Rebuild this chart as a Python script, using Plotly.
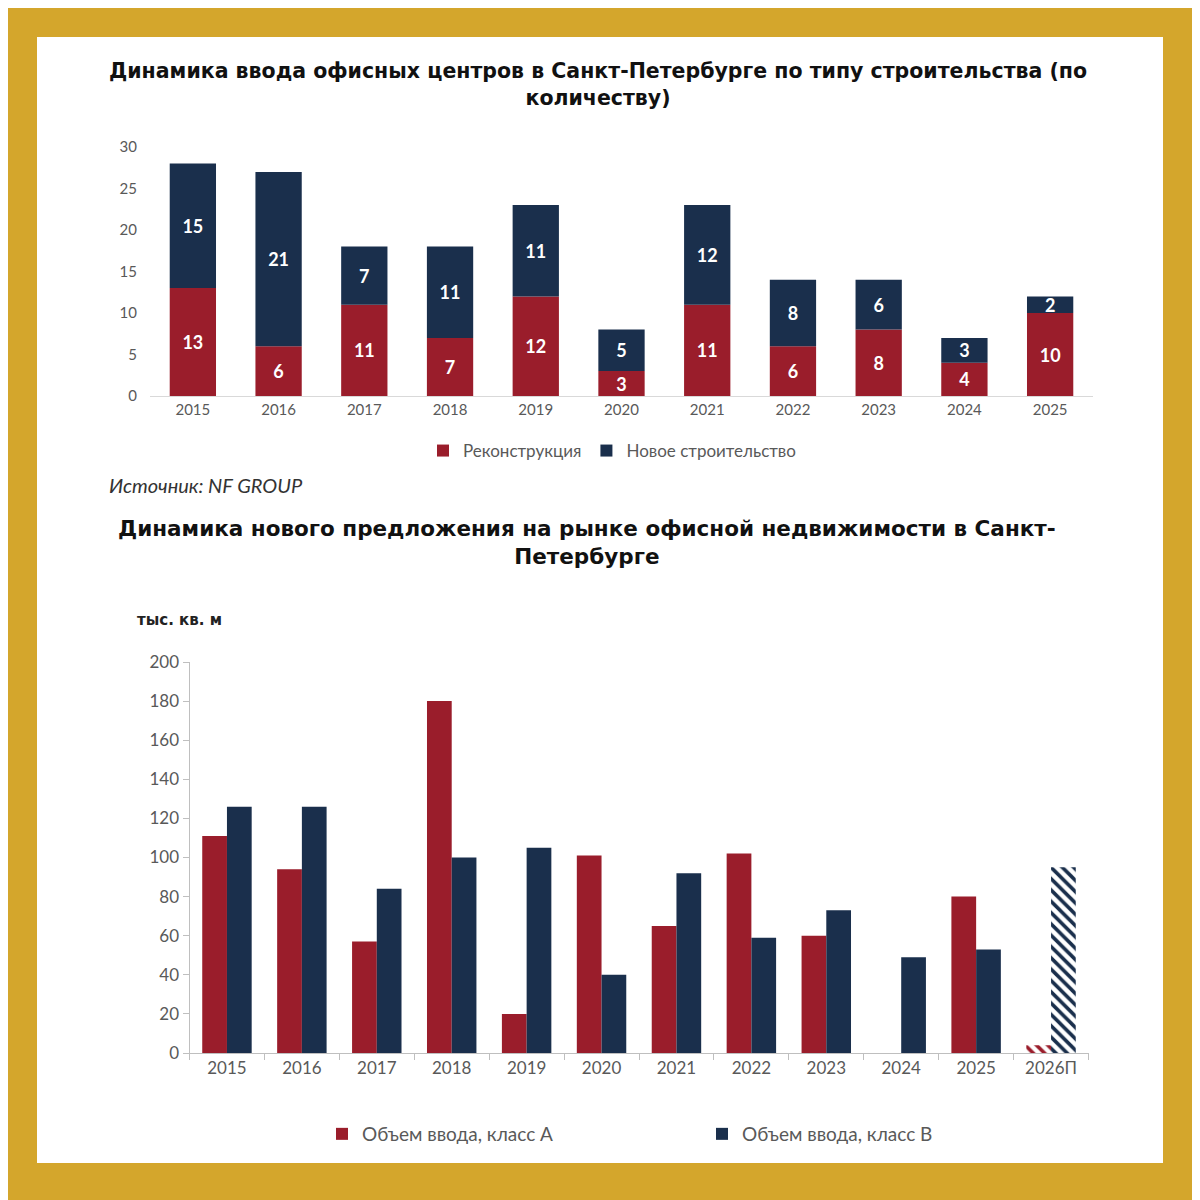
import plotly.graph_objects as go

# ---- Data: chart 1 (number of office centres) ----
years_top = ["2015", "2016", "2017", "2018", "2019", "2020", "2021", "2022", "2023", "2024", "2025"]
reconstruction = [13, 6, 11, 7, 12, 3, 11, 6, 8, 4, 10]
new_build = [15, 21, 7, 11, 11, 5, 12, 8, 6, 3, 2]

# ---- Data: chart 2 (new supply, thousand sq m) ----
years_bot = ["2015", "2016", "2017", "2018", "2019", "2020", "2021", "2022", "2023", "2024", "2025", "2026П"]
class_a = [111, 94, 57, 180, 20, 101, 65, 102, 60, 0, 80, 4]
class_b = [126, 126, 84, 100, 105, 40, 92, 59, 73, 49, 53, 95]
forecast_flag = [False] * 11 + [True]

RED = "#9A1D2B"
NAVY = "#1A2F4C"
GRAY = "#595959"
OFF = 8.0          # browser body margin
W = 1200.0 - OFF   # figure size so that it fills the window


def px(x):
    return (x - OFF) / W


def py(y):
    return 1 - (y - OFF) / W


fig = go.Figure()

lab_font = dict(color="white", size=18, family="Lato", weight="bold")

# Top chart: stacked bars (stacking via base)
fig.add_trace(go.Bar(
    x=years_top, y=reconstruction, name="Реконструкция",
    marker=dict(color=RED, line=dict(width=0)),
    text=reconstruction, textposition="inside", insidetextanchor="middle", textangle=0,
    constraintext="none",
    textfont=lab_font, xaxis="x", yaxis="y", legend="legend", cliponaxis=False,
    width=0.54,
))
fig.add_trace(go.Bar(
    x=years_top, y=new_build, base=reconstruction, name="Новое строительство",
    marker=dict(color=NAVY, line=dict(width=0)),
    text=new_build, textposition="inside", insidetextanchor="middle", textangle=0,
    constraintext="none",
    textfont=lab_font, xaxis="x", yaxis="y", legend="legend", cliponaxis=False,
    width=0.54,
))

# Bottom chart: grouped bars with hatched forecast
fig.add_trace(go.Bar(
    x=years_bot, y=class_a, name="Объем ввода, класс А",
    marker=dict(
        color=RED, line=dict(width=0),
        pattern=dict(
            shape=["\\" if f else "" for f in forecast_flag],
            fgcolor=[RED] * len(forecast_flag),
            bgcolor=["white" if f else RED for f in forecast_flag],
            size=8, solidity=0.45, fillmode="replace",
        ),
    ),
    xaxis="x2", yaxis="y2", legend="legend2", width=0.33, offset=-0.33,
))
fig.add_trace(go.Bar(
    x=years_bot, y=class_b, name="Объем ввода, класс В",
    marker=dict(
        color=NAVY, line=dict(width=0),
        pattern=dict(
            shape=["\\" if f else "" for f in forecast_flag],
            fgcolor=[NAVY] * len(forecast_flag),
            bgcolor=["white" if f else NAVY for f in forecast_flag],
            size=8, solidity=0.45, fillmode="replace",
        ),
    ),
    xaxis="x2", yaxis="y2", legend="legend2", width=0.33, offset=0.0,
))

tickfont = dict(family="Lato", size=15, color=GRAY)
tickfont2 = dict(family="Lato", size=17, color=GRAY)

fig.update_layout(
    width=int(W), height=int(W),
    margin=dict(l=0, r=0, t=0, b=0, pad=0, autoexpand=False),
    paper_bgcolor="#D4A62C",
    plot_bgcolor="white",
    barmode="overlay",
    xaxis=dict(
        domain=[px(150), px(1093)], anchor="y", type="category",
        range=[-0.5, 10.5], showline=True, linecolor="#D9D9D9", linewidth=1,
        ticks="", showgrid=False, tickfont=tickfont, zeroline=False,
    ),
    yaxis=dict(
        domain=[py(396), py(147)], anchor="x", range=[0, 30], dtick=5,
        showgrid=False, showline=False, zeroline=False, ticks="",
        tickfont=tickfont, ticklabelstandoff=12,
    ),
    xaxis2=dict(
        domain=[px(189.5), px(1088.5)], anchor="y2", type="category",
        range=[-0.5, 11.5], showline=True, linecolor="#BFBFBF", linewidth=1,
        ticks="outside", tickson="boundaries", ticklen=6, tickcolor="#BFBFBF",
        showgrid=False, tickfont=tickfont2, zeroline=False,
    ),
    yaxis2=dict(
        domain=[py(1053), py(662)], anchor="x2", range=[0, 200], dtick=20,
        showgrid=False, showline=True, linecolor="#BFBFBF", linewidth=1,
        ticks="outside", ticklen=6, tickcolor="#BFBFBF", zeroline=False,
        tickfont=tickfont2,
    ),
    legend=dict(
        orientation="h", x=px(612), xanchor="center", y=py(451), yanchor="middle",
        font=dict(family="Lato", size=17, color=GRAY), bgcolor="rgba(0,0,0,0)",
        itemwidth=30, traceorder="normal",
    ),
    legend2=dict(
        orientation="h", x=px(322), xanchor="left", y=py(1134), yanchor="middle",
        font=dict(family="Lato", size=19, color=GRAY), bgcolor="rgba(0,0,0,0)",
        itemwidth=30, entrywidth=335, entrywidthmode="pixels", traceorder="normal",
    ),
    showlegend=True,
)

# White panel
fig.add_shape(type="rect", xref="paper", yref="paper",
              x0=px(37), x1=px(1163), y0=py(1163), y1=py(37),
              fillcolor="white", line=dict(width=0), layer="below")

# Titles and notes
fig.add_annotation(
    xref="paper", yref="paper", x=px(598), y=py(85), xanchor="center", yanchor="middle",
    text="<b>Динамика ввода офисных центров в Санкт-Петербурге по типу строительства (по<br>количеству)</b>",
    showarrow=False, font=dict(family="DejaVu Sans", size=20.5, color="#111111"), align="center",
)
fig.add_annotation(
    xref="paper", yref="paper", x=px(587), y=py(542), xanchor="center", yanchor="middle",
    text="<b>Динамика нового предложения на рынке офисной недвижимости в Санкт-<br>Петербурге</b>",
    showarrow=False, font=dict(family="DejaVu Sans", size=21.5, color="#111111"), align="center",
)
fig.add_annotation(
    xref="paper", yref="paper", x=px(107), y=py(485), xanchor="left", yanchor="middle",
    text="<i>Источник: NF GROUP</i>", showarrow=False,
    font=dict(family="Lato", size=20, color="#333333"),
)
fig.add_annotation(
    xref="paper", yref="paper", x=px(135), y=py(620), xanchor="left", yanchor="middle",
    text="<b>тыс. кв. м</b>", showarrow=False,
    font=dict(family="DejaVu Sans", size=15, color="#222222"),
)

fig.write_html("out.html")
